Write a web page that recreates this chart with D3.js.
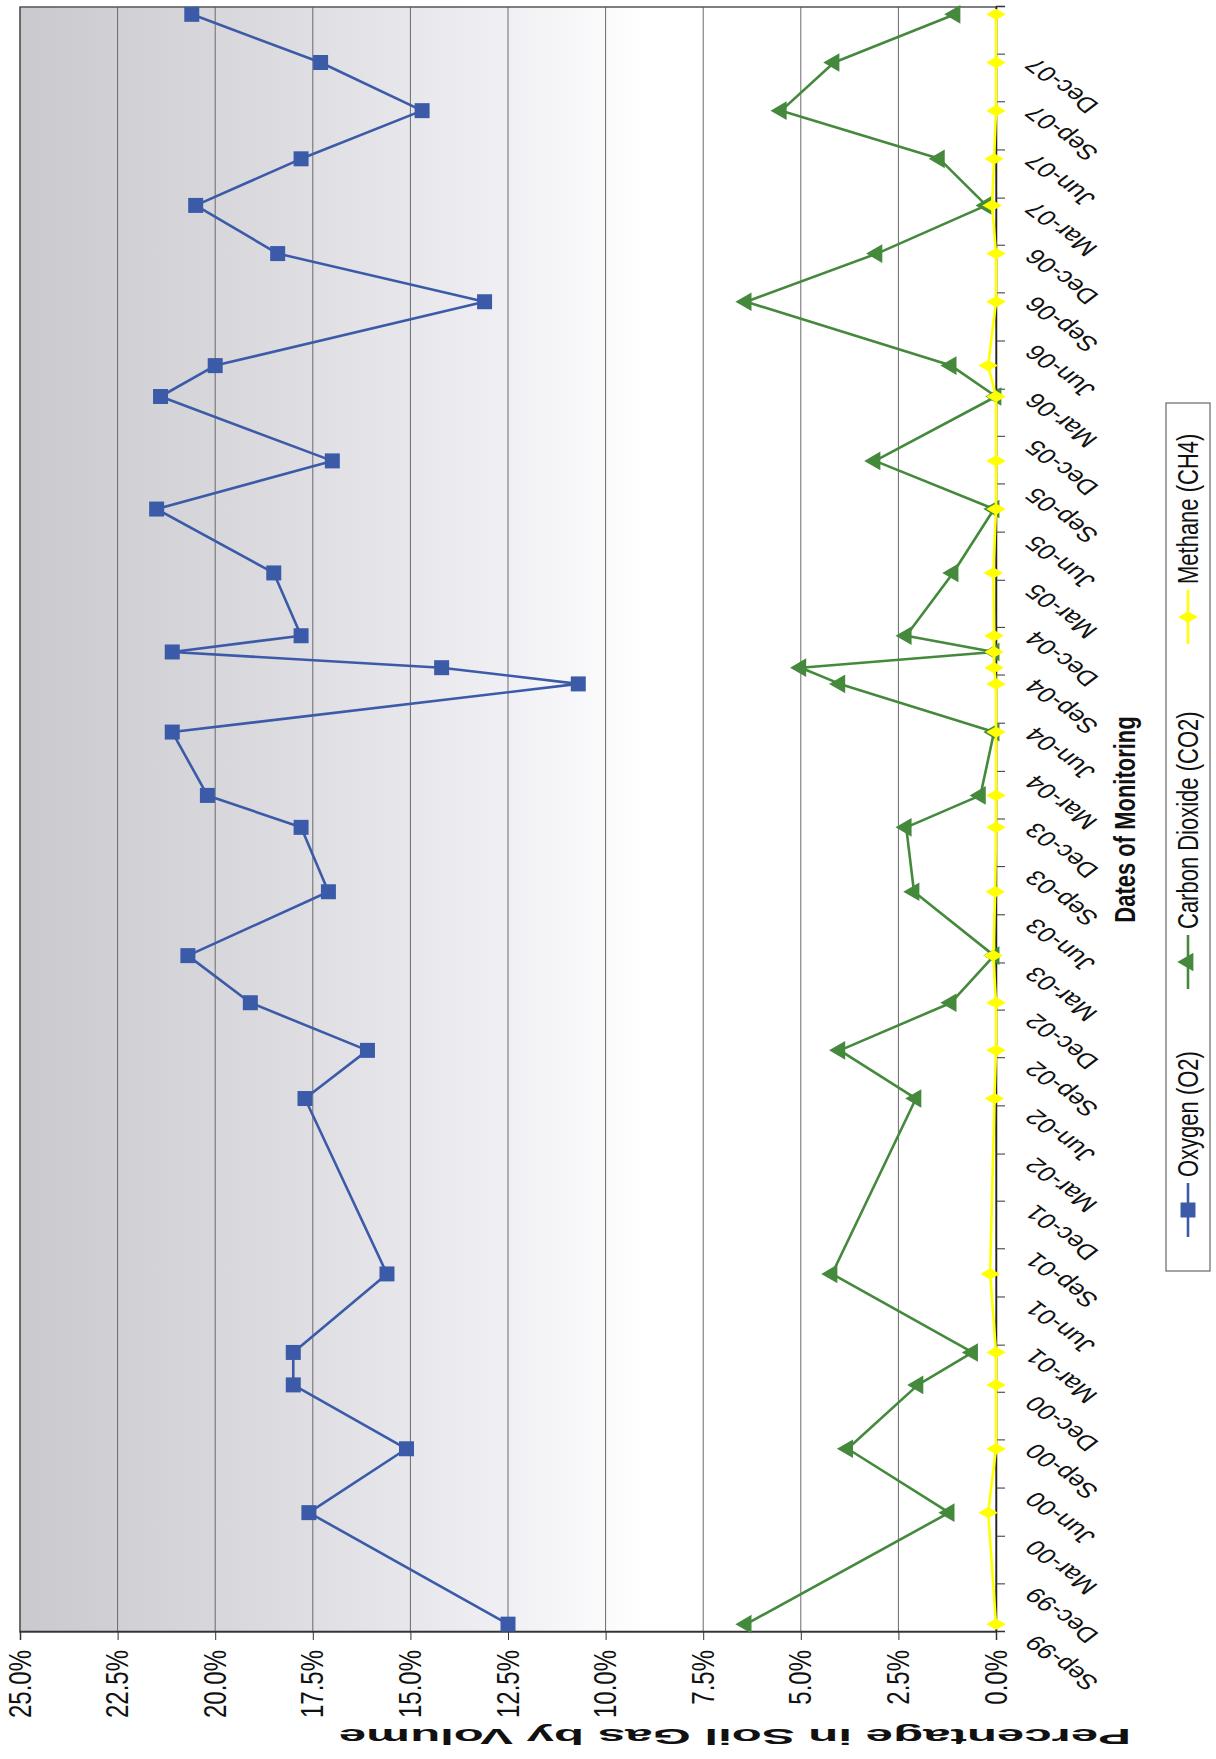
<!DOCTYPE html>
<html><head><meta charset="utf-8">
<script src="https://cdn.jsdelivr.net/npm/d3@7"></script>
<style>
body{margin:0;background:#fff;}
svg{display:block;}
text{font-family:Arial,"Liberation Sans",sans-serif;fill:#111;}
</style>
</head><body><div id="chart"></div>
<script>
// ---- data ----
const dates = ["1999-09-16","2000-04-16","2000-08-16","2000-12-16","2001-02-16","2001-07-16",
  "2002-06-16","2002-09-16","2002-12-16","2003-03-16","2003-07-16","2003-11-16","2004-01-16",
  "2004-05-16","2004-08-16","2004-09-16","2004-10-16","2004-11-16","2005-03-16","2005-07-16",
  "2005-10-16","2006-02-16","2006-04-16","2006-08-16","2006-11-16","2007-02-16","2007-05-16",
  "2007-08-16","2007-11-16","2008-02-16"];
const oxygen = [12.5,17.6,15.1,18.0,18.0,15.6,17.7,16.1,19.1,20.7,17.1,17.8,20.2,21.1,10.7,14.2,
  21.1,17.8,18.5,21.5,17.0,21.4,20.0,13.1,18.4,20.5,17.8,14.7,17.3,20.6];
const carbonDioxide = [6.4,1.2,3.8,2.0,0.6,4.2,2.05,4.0,1.15,0.05,2.1,2.3,0.4,0.05,4.0,5.0,
  0.05,2.3,1.1,0.05,3.1,0.0,1.15,6.4,3.05,0.25,1.45,5.5,4.15,1.05];
const methane = [0,0.2,0,0,0,0.15,0.04,0,0,0.07,0.02,0,0,0,0,0.05,0.05,0.05,0.07,0,0,0,0.2,0,
  0,0.1,0.05,0,0,0];
const percentTicks = [0,2.5,5,7.5,10,12.5,15,17.5,20,22.5,25];
const dateAxisStart = "1999-09-01", dateAxisEnd = "2008-03-01", lastLabel = "2007-12-01";
const seriesNames = ["Oxygen (O2)","Carbon Dioxide (CO2)","Methane (CH4)"];
const xTitle = "Dates of Monitoring";
const yTitle = "Percentage in Soil Gas by Volume";

// ---- layout (unrotated frame; the chart is then turned 90° counter-clockwise) ----
const PW = 1216, PH = 1759;       // page
const W = PH, H = PW;             // unrotated frame
const K = 1.32;                   // text stretch across the page width
const m = {left:127, right:W-1752, top:20, bottom:H-996};
const parse = d3.timeParse("%Y-%m-%d");
const colors = ["#3b5ba8","#44893c","#ffff00"];

const svg = d3.select("#chart").append("svg").attr("width",PW).attr("height",PH);
const defs = svg.append("defs");
const grad = defs.append("linearGradient").attr("id","bg").attr("x1",0).attr("y1",0).attr("x2",0).attr("y2",1);
[[0,"#c9c9ce"],[0.25,"#dadadf"],[0.5,"#f0f0f4"],[0.64,"#ffffff"],[1,"#ffffff"]]
  .forEach(([o,c])=>grad.append("stop").attr("offset",o).attr("stop-color",c));

const g = svg.append("g").attr("transform",`translate(0,${PH}) rotate(-90)`);

const x = d3.scaleTime().domain([parse(dateAxisStart),parse(dateAxisEnd)]).range([m.left,W-m.right]);
const y = d3.scaleLinear().domain([0,25]).range([H-m.bottom,m.top]);

// plot background
g.append("rect").attr("x",m.left).attr("y",m.top).attr("width",W-m.left-m.right)
  .attr("height",H-m.top-m.bottom).attr("fill","url(#bg)");

// gridlines
g.append("g").selectAll("line").data(percentTicks.filter(v=>v>0)).join("line")
  .attr("x1",m.left).attr("x2",W-m.right).attr("y1",d=>y(d)).attr("y2",d=>y(d))
  .attr("stroke","#6a6a6a").attr("stroke-width",1);

// plot border
g.append("rect").attr("x",m.left).attr("y",m.top).attr("width",W-m.left-m.right)
  .attr("height",H-m.top-m.bottom).attr("fill","none").attr("stroke","#555").attr("stroke-width",1.5);

// percent axis
const yAxis = g.append("g").attr("transform",`translate(${m.left},0)`)
  .call(d3.axisLeft(y).tickValues(percentTicks).tickSize(8).tickPadding(10)
    .tickFormat(d=>d3.format(".1f")(d)+"%"));
yAxis.select(".domain").attr("stroke","#333").attr("stroke-width",1.5);
yAxis.selectAll(".tick line").attr("stroke","#333");
yAxis.selectAll("text").attr("font-size",24).attr("fill","#111")
  .attr("transform",`scale(1,${K})`);

// date axis: quarterly ticks starting Sep-99
const tickDates = d3.timeMonth.range(parse(dateAxisStart), d3.timeDay.offset(parse(dateAxisEnd),1), 3);
const labelEnd = parse(lastLabel);
const xAxis = g.append("g").attr("transform",`translate(0,${H-m.bottom})`)
  .call(d3.axisBottom(x).tickValues(tickDates).tickSize(9)
    .tickFormat(d=> d <= labelEnd ? d3.timeFormat("%b-%y")(d) : ""));
xAxis.select(".domain").attr("stroke","#222").attr("stroke-width",1.5);
xAxis.selectAll(".tick line").attr("stroke","#333");
xAxis.selectAll("text").attr("font-size",21).attr("fill","#111")
  .attr("text-anchor","end").attr("x",0).attr("y",0).attr("dy","0.71em")
  .attr("transform",`translate(-13,27) scale(1,${K}) rotate(-45)`);

// series
const series = [oxygen,carbonDioxide,methane].map((vals,i)=>({
  name:seriesNames[i], color:colors[i],
  pts:dates.map((d,j)=>({date:parse(d),v:vals[j]}))
}));
const line = d3.line().x(d=>x(d.date)).y(d=>y(d.v));
const symbols = [d3.symbolSquare,d3.symbolTriangle,d3.symbolDiamond];
const symSize = [225,150,110];
series.forEach((s,i)=>{
  const sg = g.append("g");
  sg.append("path").datum(s.pts).attr("d",line).attr("fill","none")
    .attr("stroke",s.color).attr("stroke-width",2.6).attr("stroke-linejoin","round");
  sg.selectAll("path.m").data(s.pts).join("path").attr("class","m")
    .attr("d",d3.symbol().type(symbols[i]).size(symSize[i]))
    .attr("transform",d=>`translate(${x(d.date)},${y(d.v)})`)
    .attr("fill",s.color);
});

// axis titles
g.append("text").text(xTitle).attr("text-anchor","middle").attr("dominant-baseline","central")
  .attr("font-weight","bold").attr("font-size",22)
  .attr("transform",`translate(${(m.left+W-m.right)/2},1125) scale(1,${K})`);
g.append("text").text(yTitle).attr("text-anchor","middle").attr("dominant-baseline","central")
  .attr("font-weight","bold").attr("font-size",22)
  .attr("textLength",600).attr("lengthAdjust","spacingAndGlyphs")
  .attr("transform",`translate(22,735) scale(1,${K}) rotate(-90)`);

// legend
const lg = g.append("g");
lg.append("rect").attr("x",488).attr("y",1166).attr("width",868).attr("height",44)
  .attr("fill","#fff").attr("stroke","#666").attr("stroke-width",1.2);
const legX = [549,797,1142];
series.forEach((s,i)=>{
  const cx = legX[i], cy = 1188;
  lg.append("line").attr("x1",cx-27).attr("x2",cx+27).attr("y1",cy).attr("y2",cy)
    .attr("stroke",s.color).attr("stroke-width",2.6);
  lg.append("path").attr("d",d3.symbol().type(symbols[i]).size(symSize[i]))
    .attr("transform",`translate(${cx},${cy})`).attr("fill",s.color);
  lg.append("text").text(s.name).attr("font-size",22).attr("dominant-baseline","central")
    .attr("transform",`translate(${cx+33},${cy}) scale(1,${K})`);
});
</script>
</body></html>
